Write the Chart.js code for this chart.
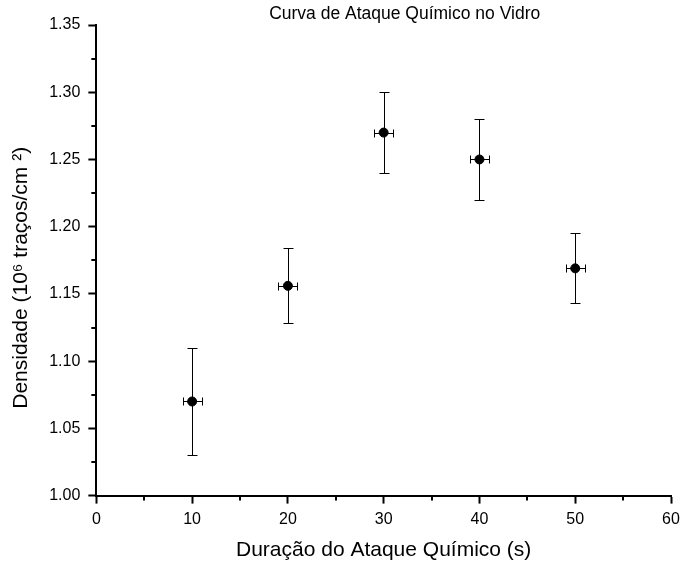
<!DOCTYPE html>
<html>
<head>
<meta charset="utf-8">
<script src="https://cdn.jsdelivr.net/npm/chart.js@4/dist/chart.umd.min.js"></script>
<style>
body { margin: 0; background: #fff; }
</style>
</head>
<body>
<canvas id="AtaqueChart" width="681" height="567"></canvas>
<script>
// dados: tempo de ataque (s) e densidade de traços
var tempos = [10, 20, 30, 40, 50];
var densidades = [1.070, 1.156, 1.270, 1.250, 1.169];
var erroDensidade = [0.040, 0.028, 0.030, 0.030, 0.026];
var erroTempo = [1, 1, 1, 1, 1];

// marcas menores dos eixos
var xMinor = [5, 15, 25, 35, 45, 55];
var yMinor = [1.025, 1.075, 1.125, 1.175, 1.225, 1.275, 1.325];

var titulo = 'Curva de Ataque Químico no Vidro';
var fonte = "'Liberation Sans', Arial, sans-serif";

// barras de erro desenhadas com as escalas do próprio Chart.js
var errorBars = {
  id: 'errorBars',
  beforeDatasetsDraw: function (chart) {
    var ctx = chart.ctx;
    var xs = chart.scales.x, ys = chart.scales.y;
    ctx.save();
    ctx.strokeStyle = '#000';
    ctx.lineWidth = 1;
    for (var i = 0; i < tempos.length; i++) {
      var px = Math.round(xs.getPixelForValue(tempos[i])) + 0.5;
      var py = Math.round(ys.getPixelForValue(densidades[i])) + 0.5;
      var top = Math.round(ys.getPixelForValue(densidades[i] + erroDensidade[i])) + 0.5;
      var bot = Math.round(ys.getPixelForValue(densidades[i] - erroDensidade[i])) + 0.5;
      var left = Math.round(xs.getPixelForValue(tempos[i] - erroTempo[i])) + 0.5;
      var right = Math.round(xs.getPixelForValue(tempos[i] + erroTempo[i])) + 0.5;
      ctx.beginPath();
      // vertical
      ctx.moveTo(px, top); ctx.lineTo(px, bot);
      ctx.moveTo(px - 5, top); ctx.lineTo(px + 5, top);
      ctx.moveTo(px - 5, bot); ctx.lineTo(px + 5, bot);
      // horizontal
      ctx.moveTo(left, py); ctx.lineTo(right, py);
      ctx.moveTo(left, py - 4); ctx.lineTo(left, py + 4);
      ctx.moveTo(right, py - 4); ctx.lineTo(right, py + 4);
      ctx.stroke();
    }
    ctx.restore();
  }
};

// marcas menores (mais curtas) e o título, um pouco à direita do centro
var extras = {
  id: 'extras',
  afterDraw: function (chart) {
    var ctx = chart.ctx;
    var xs = chart.scales.x, ys = chart.scales.y;
    ctx.save();
    ctx.strokeStyle = '#000';
    ctx.lineWidth = 2;
    ctx.beginPath();
    xMinor.forEach(function (v) {
      var p = Math.round(xs.getPixelForValue(v));
      ctx.moveTo(p, ys.bottom); ctx.lineTo(p, ys.bottom + 5);
    });
    yMinor.forEach(function (v) {
      var p = Math.round(ys.getPixelForValue(v));
      ctx.moveTo(xs.left, p); ctx.lineTo(xs.left - 5, p);
    });
    ctx.stroke();

    ctx.fillStyle = '#000';
    ctx.font = '17.5px ' + fonte;
    ctx.textAlign = 'center';
    ctx.textBaseline = 'alphabetic';
    var ca = chart.chartArea;
    ctx.fillText(titulo, (ca.left + ca.right) / 2 + 21, 19);
    ctx.restore();
  }
};

var ctx = document.getElementById('AtaqueChart').getContext('2d');
var myChart = new Chart(ctx, {
  type: 'scatter',
  data: {
    datasets: [{
      data: tempos.map(function (t, i) { return { x: t, y: densidades[i] }; }),
      backgroundColor: '#000',
      borderColor: '#000',
      pointRadius: 4.5,
      pointHoverRadius: 4.5
    }]
  },
  options: {
    responsive: false,
    animation: false,
    layout: { padding: { left: 9, right: 10, top: 25, bottom: 4 } },
    plugins: {
      legend: { display: false },
      tooltip: { enabled: false },
      title: { display: false }
    },
    scales: {
      x: {
        type: 'linear',
        min: 0, max: 60,
        // o rótulo "60" fica cortado na borda, como no original
        afterFit: function (scale) { scale.paddingRight = 0; },
        ticks: { stepSize: 10, color: '#000', font: { family: fonte, size: 16 }, padding: 6, maxRotation: 0 },
        grid: { drawOnChartArea: false, drawTicks: true, tickLength: 8, tickWidth: 2, tickColor: '#000' },
        border: { display: true, color: '#000', width: 2 },
        title: { display: true, text: 'Duração do Ataque Químico (s)', color: '#000', font: { family: fonte, size: 21 }, padding: { top: 3, bottom: 0 } }
      },
      y: {
        type: 'linear',
        min: 1.00, max: 1.35,
        ticks: {
          stepSize: 0.05, color: '#000', font: { family: fonte, size: 16 }, padding: 8,
          callback: function (v) { return v.toFixed(2); }
        },
        grid: { drawOnChartArea: false, drawTicks: true, tickLength: 8, tickWidth: 2, tickColor: '#000' },
        border: { display: true, color: '#000', width: 2 },
        title: { display: true, text: 'Densidade (10⁶ traços/cm ²)      ', color: '#000', font: { family: fonte, size: 21 }, padding: { top: 0, bottom: 7 } }
      }
    }
  },
  plugins: [errorBars, extras]
});
</script>
</body>
</html>
